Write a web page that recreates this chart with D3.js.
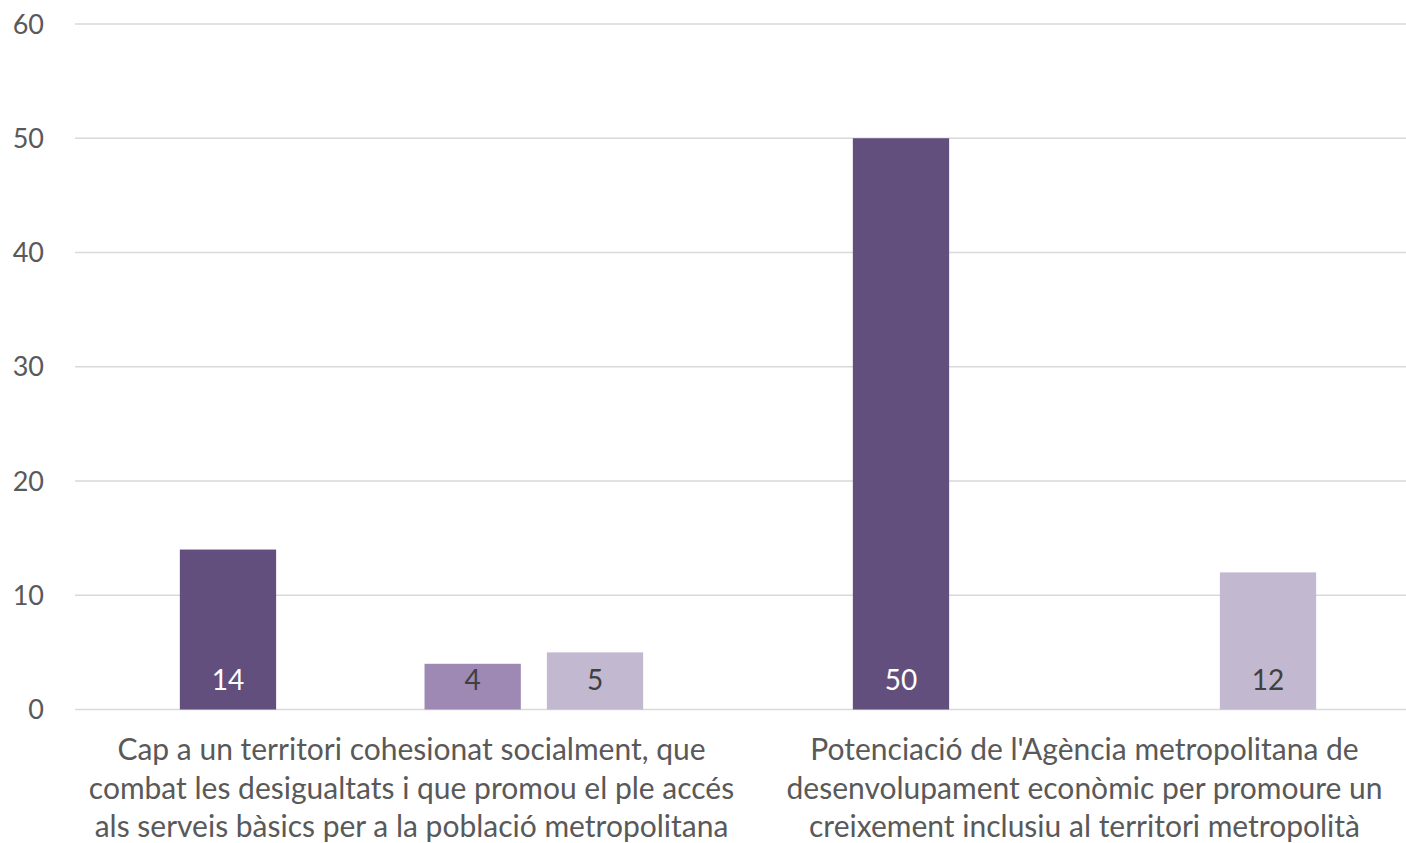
<!DOCTYPE html>
<html>
<head>
<meta charset="utf-8">
<script src="https://cdn.jsdelivr.net/npm/d3@7"></script>
<style>
    body { margin: 0; background: #fff; }
    svg { display: block; }
    text { font-family: Lato, "Open Sans", sans-serif; }
</style>
</head>
<body>
<div id="chart"></div>
<script>
// categories (already broken into lines like the original)
const categories = [
    ["Cap a un territori cohesionat socialment, que",
     "combat les desigualtats i que promou el ple accés",
     "als serveis bàsics per a la població metropolitana"],
    ["Potenciació de l'Agència metropolitana de",
     "desenvolupament econòmic per promoure un",
     "creixement inclusiu al territori metropolità"]
];
// four series, one value per category (null = no bar)
const serie1 = [14, 50];
const serie2 = [null, null];
const serie3 = [4, null];
const serie4 = [5, 12];
const yTicks = [0, 10, 20, 30, 40, 50, 60];

const seriesList = [serie1, serie2, serie3, serie4];
const colors = ["#634f7d", "#7f6a99", "#9d89b3", "#c2b8d0"];
const labelColors = ["#ffffff", "#ffffff", "#404040", "#404040"];

const width = 1406, height = 843;
const plotLeft = 75, plotRight = 1421, plotTop = 24, plotBottom = 709.5;

const svg = d3.select("#chart").append("svg")
    .attr("width", width)
    .attr("height", height);

const y = d3.scaleLinear().domain([0, 60]).range([plotBottom, plotTop]);

const x0 = d3.scaleBand()
    .domain(d3.range(categories.length))
    .range([plotLeft, plotRight]);

const x1 = d3.scaleBand()
    .domain(d3.range(seriesList.length))
    .range([0, x0.bandwidth()])
    .paddingInner(0.213)
    .paddingOuter(0.857);

// grid
svg.append("g").selectAll("line")
    .data(yTicks)
    .enter().append("line")
    .attr("x1", plotLeft).attr("x2", width)
    .attr("y1", d => y(d)).attr("y2", d => y(d))
    .attr("stroke", "#d9d9d9")
    .attr("stroke-width", 1.5);

// y axis labels
svg.append("g").selectAll("text")
    .data(yTicks)
    .enter().append("text")
    .attr("x", 44)
    .attr("y", d => y(d))
    .attr("dy", "0.36em")
    .attr("text-anchor", "end")
    .attr("font-size", 27)
    .attr("fill", "#595959")
    .text(d => d);

// bars
const bars = [];
seriesList.forEach((s, si) => {
    s.forEach((v, ci) => {
        if (v != null) bars.push({ s: si, c: ci, v: v });
    });
});

const barG = svg.append("g");
barG.selectAll("rect")
    .data(bars)
    .enter().append("rect")
    .attr("x", d => x0(d.c) + x1(d.s))
    .attr("width", x1.bandwidth())
    .attr("y", d => y(d.v))
    .attr("height", d => y(0) - y(d.v))
    .attr("fill", d => colors[d.s]);

barG.selectAll("text")
    .data(bars)
    .enter().append("text")
    .attr("x", d => x0(d.c) + x1(d.s) + x1.bandwidth() / 2)
    .attr("y", y(0) - 20)
    .attr("text-anchor", "middle")
    .attr("font-size", 28)
    .attr("fill", d => labelColors[d.s])
    .text(d => d.v);

// category labels
const catG = svg.append("g").selectAll("text")
    .data(categories)
    .enter().append("text")
    .attr("text-anchor", "middle")
    .attr("font-size", 30)
    .attr("fill", "#595959");

catG.selectAll("tspan")
    .data((d, i) => d.map(line => ({ line: line, i: i })))
    .enter().append("tspan")
    .attr("x", d => x0(d.i) + x0.bandwidth() / 2)
    .attr("y", (d, j) => 760 + j * 38.5)
    .text(d => d.line);
</script>
</body>
</html>
